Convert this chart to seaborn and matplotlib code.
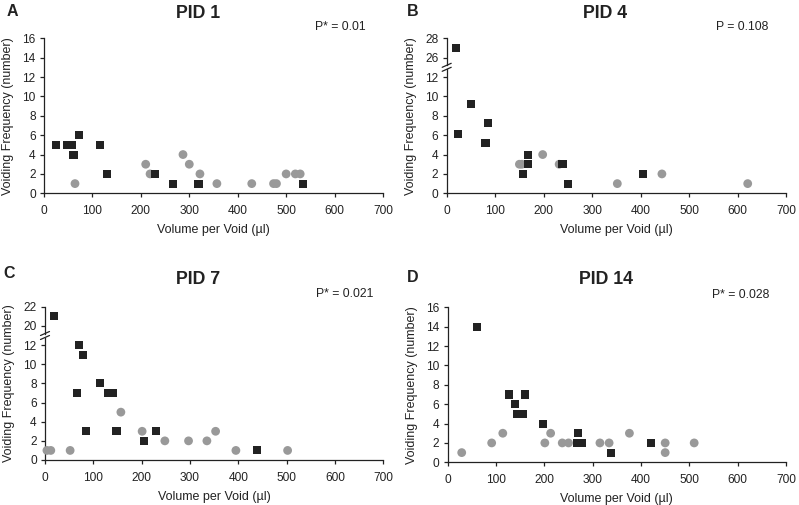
import pandas as pd
import matplotlib
matplotlib.use("Agg")
import matplotlib.pyplot as plt
import seaborn as sns

# PID 1 (squares = black, circles = gray)
pid1_sq_x = [25, 47, 57, 61, 73, 116, 131, 230, 266, 319, 534]
pid1_sq_y = [5, 5, 5, 4, 6, 5, 2, 2, 1, 1, 1]
pid1_ci_x = [64, 210, 219, 287, 300, 322, 357, 429, 474, 480, 500, 519, 529]
pid1_ci_y = [1, 3, 2, 4, 3, 2, 1, 1, 1, 1, 2, 2, 2]

# PID 4
pid4_sq_x = [20, 23, 50, 80, 86, 157, 168, 168, 239, 250, 405]
pid4_sq_y = [27, 6.1, 9.2, 5.2, 7.3, 2, 3, 4, 3, 1, 2]
pid4_ci_x = [150, 155, 198, 232, 352, 444, 621]
pid4_ci_y = [3, 3, 4, 3, 1, 2, 1]

# PID 7
pid7_sq_x = [19, 67, 70, 79, 85, 114, 130, 141, 148, 205, 230, 439]
pid7_sq_y = [21, 7, 12, 11, 3, 8, 7, 7, 3, 2, 3, 1]
pid7_ci_x = [4, 12, 52, 157, 201, 248, 297, 335, 353, 395, 502]
pid7_ci_y = [1, 1, 1, 5, 3, 2, 2, 2, 3, 1, 1]

# PID 14
pid14_sq_x = [60, 127, 139, 143, 156, 160, 198, 267, 270, 278, 338, 420]
pid14_sq_y = [14, 7, 6, 5, 5, 7, 4, 2, 3, 2, 1, 2]
pid14_ci_x = [29, 91, 114, 201, 213, 237, 250, 315, 334, 376, 450, 450, 510]
pid14_ci_y = [1, 2, 3, 2, 3, 2, 2, 2, 2, 3, 2, 1, 2]

titles = ["PID 1", "PID 4", "PID 7", "PID 14"]
letters = ["A", "B", "C", "D"]
p_texts = ["P* = 0.01", "P = 0.108", "P* = 0.021", "P* = 0.028"]

sns.set_style("ticks")
plt.rcParams["font.family"] = ["Liberation Sans", "DejaVu Sans"]
plt.rcParams.update({
    "axes.linewidth": 0.9,
    "xtick.major.width": 0.9, "ytick.major.width": 0.9,
    "xtick.major.size": 3, "ytick.major.size": 3,
    "xtick.labelsize": 8.6, "ytick.labelsize": 8.6,
    "xtick.major.pad": 5.5, "ytick.major.pad": 3,
    "axes.edgecolor": "#222222",
    "xtick.color": "#222222", "ytick.color": "#222222",
    "text.color": "#222222", "axes.labelcolor": "#222222",
})

W, H = 799, 505
fig = plt.figure(figsize=(W / 100, H / 100), dpi=100)


def px_axes(left, right, top, bottom):
    # pixel box -> figure axes
    return fig.add_axes([left / W, 1 - bottom / H, (right - left) / W, (bottom - top) / H])


def make_df(sq_x, sq_y, ci_x, ci_y):
    # circles first so the black squares sit on top
    return pd.DataFrame({
        "volume": list(ci_x) + list(sq_x),
        "freq": list(ci_y) + list(sq_y),
        "group": ["ci"] * len(ci_x) + ["sq"] * len(sq_x),
    })


def draw(ax, df):
    sns.scatterplot(data=df, x="volume", y="freq", hue="group", style="group",
                    size="group", palette={"sq": "#222222", "ci": "#999999"},
                    markers={"sq": "s", "ci": "o"}, sizes={"sq": 34, "ci": 40},
                    hue_order=["sq", "ci"], style_order=["sq", "ci"], size_order=["sq", "ci"],
                    linewidth=0, legend=False, ax=ax, clip_on=False, zorder=3)
    ax.set_xlim(0, 700)
    ax.set_xticks(range(0, 701, 100))
    ax.set_xlabel("")
    ax.set_ylabel("")


def finish(ax, ax_label_height):
    ax.set_xlabel("Volume per Void (µl)", fontsize=9, labelpad=5)
    ax.set_ylabel("Voiding Frequency (number)", fontsize=9)
    ax.yaxis.set_label_coords(-0.088, ax_label_height)
    sns.despine(ax=ax)


def simple_panel(df, box, ylim):
    ax = px_axes(*box)
    draw(ax, df)
    ax.set_ylim(*ylim)
    ax.set_yticks(range(0, 17, 2))
    finish(ax, 0.5)
    return ax


def broken_panel(df, box, split_px, top_lim, top_ticks, bot_lim):
    left, right, top, bottom = box
    ax_top = px_axes(left, right, top, split_px - 2)
    ax_bot = px_axes(left, right, split_px + 2, bottom)
    draw(ax_top, df[df["freq"] >= top_lim[0]])
    draw(ax_bot, df[df["freq"] <= bot_lim[1]])
    ax_top.set_ylim(*top_lim)
    ax_top.set_yticks(top_ticks)
    ax_top.set_xticks([])
    sns.despine(ax=ax_top, bottom=True)
    ax_bot.set_ylim(*bot_lim)
    ax_bot.set_yticks(range(0, 13, 2))
    hb = bottom - split_px - 2
    finish(ax_bot, ((bottom - top) / 2) / hb)
    # break marks
    ht = split_px - 2 - top
    dx = 4.5 / (right - left)
    kw = dict(color="#222222", lw=0.9, clip_on=False)
    ax_top.plot([-dx, dx], [-2 / ht, 2 / ht], transform=ax_top.transAxes, **kw)
    ax_bot.plot([-dx, dx], [1 - 2 / hb, 1 + 2 / hb], transform=ax_bot.transAxes, **kw)
    return ax_bot


simple_panel(make_df(pid1_sq_x, pid1_sq_y, pid1_ci_x, pid1_ci_y),
             (44, 383, 38.3, 193.3), (0, 16))
broken_panel(make_df(pid4_sq_x, pid4_sq_y, pid4_ci_x, pid4_ci_y),
             (446.7, 786, 38.3, 193.3), 67.3, (25.2, 28), [26, 28], (0, 12.8))
broken_panel(make_df(pid7_sq_x, pid7_sq_y, pid7_ci_x, pid7_ci_y),
             (45, 383.3, 306.7, 460), 335.5, (19.2, 22), [20, 22], (0, 12.8))
simple_panel(make_df(pid14_sq_x, pid14_sq_y, pid14_ci_x, pid14_ci_y),
             (447.7, 786, 307.3, 462.3), (0, 16))

# titles, panel letters, p-values (pixel positions)
title_pos = [(198, 13), (605, 13), (198, 279), (606, 279)]
letter_pos = [(7, 12), (407, 12), (3, 273), (407, 278)]
p_pos = [(366, 27), (768, 27), (373, 294), (769, 295)]
for t, (x, y) in zip(titles, title_pos):
    fig.text(x / W, 1 - y / H, t, ha="center", va="center", fontsize=12.8, fontweight="bold")
for t, (x, y) in zip(letters, letter_pos):
    fig.text(x / W, 1 - y / H, t, ha="left", va="center", fontsize=11.5, fontweight="bold")
for t, (x, y) in zip(p_texts, p_pos):
    fig.text(x / W, 1 - y / H, t, ha="right", va="center", fontsize=8.8)

fig.savefig("out.png", dpi=100)
